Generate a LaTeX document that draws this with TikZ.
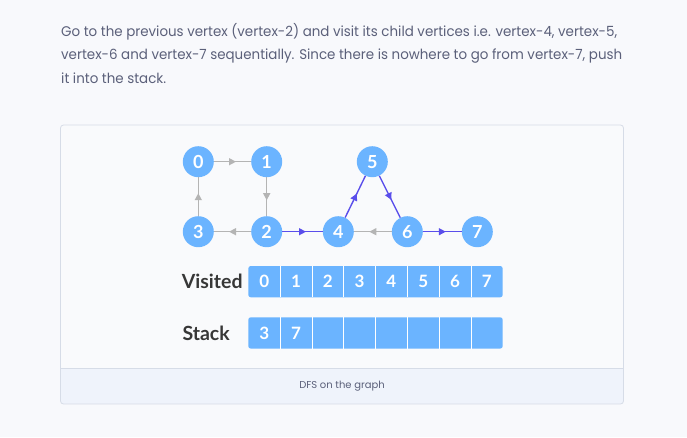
\documentclass[tikz,border=0pt]{standalone}
\usepackage{fontspec}
\setmainfont{Poppins}
\newfontfamily\lato{Lato}
\usetikzlibrary{decorations.markings,arrows.meta}
\definecolor{pagebg}{RGB}{248,249,252}
\definecolor{boxbg}{RGB}{249,250,252}
\definecolor{boxline}{RGB}{214,220,231}
\definecolor{capbg}{RGB}{239,243,251}
\definecolor{nodeblue}{RGB}{107,180,255}
\definecolor{edgegray}{RGB}{180,180,180}
\definecolor{edgeblue}{RGB}{90,78,235}
\definecolor{labdark}{RGB}{55,55,55}
\definecolor{txt}{RGB}{91,96,122}
\newlength\lineAwd
\newsavebox\lineAbox
\begin{document}
\sbox\lineAbox{\normalfont\fontsize{14}{14}\selectfont Go to the previous vertex (vertex-2) and visit its child vertices i.e. vertex-4, vertex-5,}%
\setlength\lineAwd{\wd\lineAbox}%
\pgfmathsetmacro\sx{556/\lineAwd}%
\begin{tikzpicture}[x=1pt,y=-1pt,
  vtx/.style={circle,fill=nodeblue,minimum size=31pt,inner sep=0pt,text=white,
    font=\lato\bfseries\fontsize{18}{18}\selectfont},
  arc/.style={line width=1.4pt,postaction={decorate},
    decoration={markings,mark=at position 0.5 with {\arrow[xshift=3.5pt]{Triangle[length=7pt,width=7pt]}}}},
  garc/.style={arc,draw=edgegray},
  barc/.style={arc,draw=edgeblue},
  cell/.style={minimum width=31.8pt,minimum height=31.3pt,inner sep=0pt,text=white,
    font=\lato\bfseries\fontsize{17}{17}\selectfont},
  rowlab/.style={anchor=base west,inner sep=0pt,text=labdark,
    font=\lato\bfseries\fontsize{19.5}{19.5}\selectfont},
  para/.style={anchor=base west,inner sep=0pt,text=txt,font=\fontsize{14}{14}\selectfont},
]
\useasboundingbox (0,0) rectangle (687,437);
\fill[pagebg] (0,0) rectangle (687,437);
% frame
\begin{scope}
  \clip[rounded corners=3pt] (60.5,125) rectangle (623.5,404);
  \fill[boxbg] (60.5,125) rectangle (623.5,404);
  \fill[capbg] (60.5,368) rectangle (623.5,404);
\end{scope}
\draw[boxline,line width=0.8pt] (60.5,368) -- (623.5,368);
\draw[boxline,line width=0.8pt,rounded corners=3pt] (60.5,125) rectangle (623.5,404);
\node[text=txt,font=\fontsize{10}{10}\selectfont,inner sep=0pt] (cap) at (342,386) {DFS on the graph};
% paragraph
\node[para] (l1) at (61,36) {\scalebox{\sx}[1]{Go to the previous vertex (vertex-2) and visit its child vertices i.e. vertex-4, vertex-5,}};
\node[para] (l2) at (61,59.5) {\scalebox{\sx}[1]{vertex-6 and vertex-7 sequentially. Since there is nowhere to go from vertex-7, push}};
\node[para] (l3) at (61,83) {\scalebox{\sx}[1]{it into the stack.}};
% graph
\node[vtx] (v0) at (198.3,161.7) {0};
\node[vtx] (v1) at (266.7,161.7) {1};
\node[vtx] (v5) at (372.3,161.7) {5};
\node[vtx] (v3) at (198.3,231.7) {3};
\node[vtx] (v2) at (266.7,231.7) {2};
\node[vtx] (v4) at (338.3,231.7) {4};
\node[vtx] (v6) at (407.3,231.7) {6};
\node[vtx] (v7) at (477.3,231.7) {7};
\draw[garc] (v0) -- (v1);
\draw[garc] (v1) -- (v2);
\draw[garc] (v2) -- (v3);
\draw[garc] (v3) -- (v0);
\draw[barc] (v2) -- (v4);
\draw[barc] (v4) -- (v5);
\draw[barc] (v5) -- (v6);
\draw[garc] (v6) -- (v4);
\draw[barc] (v6) -- (v7);
% arrays
\node[rowlab] (visl) at (181.7,288.3) {Visited};
\node[rowlab] (stkl) at (182.3,340) {Stack};
\fill[nodeblue,rounded corners=2.5pt] (248.3,266) rectangle (502.7,297.3);
\fill[nodeblue,rounded corners=2.5pt] (248.3,317.3) rectangle (502.7,348.6);
\foreach \i in {1,...,7}{
  \draw[white,line width=0.8pt] ({248.3+\i*31.8},266) -- ({248.3+\i*31.8},297.3);
  \draw[white,line width=0.8pt] ({248.3+\i*31.8},317.3) -- ({248.3+\i*31.8},348.6);
}
\foreach \i in {0,...,7}{
  \node[cell] (vc\i) at ({264.2+\i*31.8},281.7) {\i};
}
\node[cell] (sc0) at (264.2,333) {3};
\node[cell] (sc1) at (296,333) {7};
\end{tikzpicture}
\end{document}
